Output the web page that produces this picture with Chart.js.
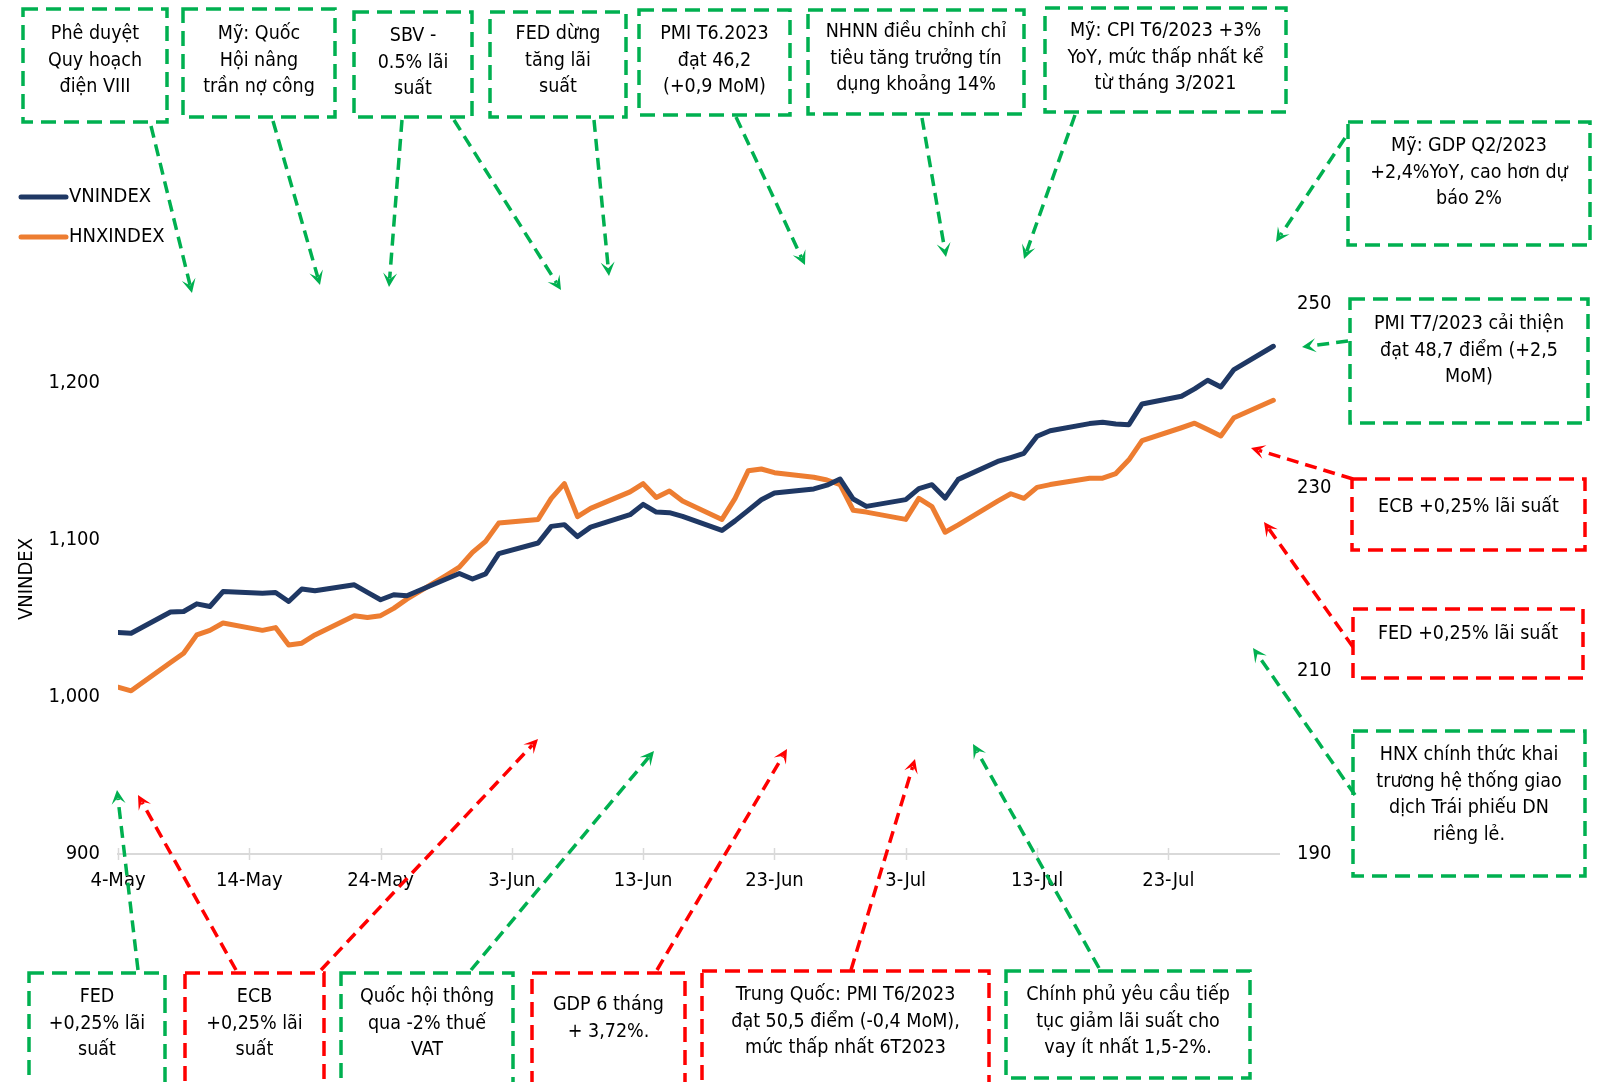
<!DOCTYPE html>
<html lang="vi">
<head>
<meta charset="utf-8">
<title>VNINDEX và HNXINDEX</title>
<script src="https://cdn.jsdelivr.net/npm/chart.js@4.4.1/dist/chart.umd.min.js"></script>
<style>
  html, body { margin: 0; padding: 0; background: #ffffff; }
  #wrap { position: relative; width: 1598px; height: 1082px; overflow: hidden; }
  canvas { display: block; }
</style>
</head>
<body>
<div id="wrap"><canvas id="chart" width="1598" height="1082"></canvas></div>
<script>
// Trading sessions, 4 May – 31 Jul 2023
const tradeDates = [
  '2023-05-04','2023-05-05',
  '2023-05-08','2023-05-09','2023-05-10','2023-05-11','2023-05-12',
  '2023-05-15','2023-05-16','2023-05-17','2023-05-18','2023-05-19',
  '2023-05-22','2023-05-23','2023-05-24','2023-05-25','2023-05-26',
  '2023-05-29','2023-05-30','2023-05-31','2023-06-01','2023-06-02',
  '2023-06-05','2023-06-06','2023-06-07','2023-06-08','2023-06-09',
  '2023-06-12','2023-06-13','2023-06-14','2023-06-15','2023-06-16',
  '2023-06-19','2023-06-20','2023-06-21','2023-06-22','2023-06-23',
  '2023-06-26','2023-06-27','2023-06-28','2023-06-29','2023-06-30',
  '2023-07-03','2023-07-04','2023-07-05','2023-07-06','2023-07-07',
  '2023-07-10','2023-07-11','2023-07-12','2023-07-13','2023-07-14',
  '2023-07-17','2023-07-18','2023-07-19','2023-07-20','2023-07-21',
  '2023-07-24','2023-07-25','2023-07-26','2023-07-27','2023-07-28',
  '2023-07-31'
];

const vnindex = [
  1041.0, 1040.5,
  1054.0, 1054.3, 1059.2, 1057.5, 1067.0,
  1066.0, 1066.4, 1060.7, 1068.6, 1067.5,
  1071.3, 1066.5, 1061.8, 1065.0, 1064.3,
  1075.0, 1078.5, 1075.0, 1078.3, 1091.1,
  1097.9, 1108.5, 1109.6, 1102.0, 1108.0,
  1115.9, 1122.5, 1117.6, 1117.2, 1114.8,
  1105.9, 1112.0, 1118.7, 1125.4, 1129.7,
  1132.3, 1134.7, 1138.6, 1125.9, 1121.2,
  1125.5, 1132.5, 1135.0, 1126.5, 1138.4,
  1149.8, 1152.3, 1155.0, 1165.8, 1169.3,
  1173.9, 1174.7, 1173.7, 1173.2, 1186.4,
  1191.3, 1196.0, 1201.5, 1197.2, 1208.3,
  1223.1
];

const hnxindex = [
  208.2, 207.8,
  210.9, 211.9, 213.9, 214.4, 215.2,
  214.4, 214.7, 212.8, 213.0, 213.9,
  216.0, 215.8, 216.0, 216.8, 217.8,
  220.4, 221.3, 222.9, 224.1, 226.1,
  226.5, 228.8, 230.4, 226.8, 227.7,
  229.5, 230.4, 228.9, 229.6, 228.5,
  226.5, 228.8, 231.8, 232.0, 231.6,
  231.1, 230.8, 230.3, 227.5, 227.3,
  226.5, 228.8, 227.9, 225.1, 225.9,
  228.5, 229.3, 228.8, 230.0, 230.3,
  231.0, 231.0, 231.5, 233.0, 235.1,
  236.5, 237.0, 236.3, 235.6, 237.6,
  239.5
];

const xTickDates  = ['2023-05-04','2023-05-14','2023-05-24','2023-06-03','2023-06-13','2023-06-23','2023-07-03','2023-07-13','2023-07-23'];
const xTickLabels = ['4-May','14-May','24-May','3-Jun','13-Jun','23-Jun','3-Jul','13-Jul','23-Jul'];
const vnTicks  = [900, 1000, 1100, 1200];
const hnxTicks = [190, 210, 230, 250];

const seriesNames = ['VNINDEX', 'HNXINDEX'];
const axisTitle = 'VNINDEX';

// Event call-outs: text of each note
const notes = [
  ['Phê duyệt', 'Quy hoạch', 'điện VIII'],
  ['Mỹ: Quốc', 'Hội nâng', 'trần nợ công'],
  ['SBV -', '0.5% lãi', 'suất'],
  ['FED dừng', 'tăng lãi', 'suất'],
  ['PMI T6.2023', 'đạt 46,2', '(+0,9 MoM)'],
  ['NHNN điều chỉnh chỉ', 'tiêu tăng trưởng tín', 'dụng khoảng 14%'],
  ['Mỹ: CPI T6/2023 +3%', 'YoY, mức thấp nhất kể', 'từ tháng 3/2021'],
  ['Mỹ: GDP Q2/2023', '+2,4%YoY, cao hơn dự', 'báo 2%'],
  ['PMI T7/2023 cải thiện', 'đạt 48,7 điểm (+2,5', 'MoM)'],
  ['ECB +0,25% lãi suất'],
  ['FED +0,25% lãi suất'],
  ['HNX chính thức khai', 'trương hệ thống giao', 'dịch Trái phiếu DN', 'riêng lẻ.'],
  ['FED', '+0,25% lãi', 'suất'],
  ['ECB', '+0,25% lãi', 'suất'],
  ['Quốc hội thông', 'qua -2% thuế', 'VAT'],
  ['GDP 6 tháng', '+ 3,72%.'],
  ['Trung Quốc: PMI T6/2023', 'đạt 50,5 điểm (-0,4 MoM),', 'mức thấp nhất 6T2023'],
  ['Chính phủ yêu cầu tiếp', 'tục giảm lãi suất cho', 'vay ít nhất 1,5-2%.']
];

// ---- layout of the call-outs (box rect, first text line y, arrows from -> to, tone)
const GREEN = '#00B050', RED = '#FF0000';
const noteLayout = [
  { box: [23, 9, 167, 122],      ty: 34,   arrows: [[151, 126, 192, 293]],   c: GREEN },
  { box: [183, 9, 335, 117],     ty: 34,   arrows: [[273, 121, 320, 285]],   c: GREEN },
  { box: [354, 12, 472, 117],    ty: 36,   arrows: [[402, 120, 389, 287], [454, 120, 561, 290]], c: GREEN },
  { box: [490, 12, 626, 117],    ty: 34,   arrows: [[594, 120, 609, 276]],   c: GREEN },
  { box: [639, 10, 790, 115],    ty: 34,   arrows: [[736, 117, 805, 265]],   c: GREEN },
  { box: [808, 10, 1024, 114],   ty: 32,   arrows: [[922, 118, 946, 257]],   c: GREEN },
  { box: [1045, 8, 1286, 112],   ty: 31,   arrows: [[1075, 115, 1024, 259]], c: GREEN },
  { box: [1348, 122, 1590, 245], ty: 146,  arrows: [[1345, 138, 1276, 242]], c: GREEN },
  { box: [1350, 299, 1588, 423], ty: 324,  arrows: [[1348, 341, 1302, 347]], c: GREEN },
  { box: [1352, 479, 1585, 550], ty: 507,  arrows: [[1353, 479, 1251, 448]], c: RED },
  { box: [1353, 609, 1583, 678], ty: 634,  arrows: [[1353, 647, 1264, 522]], c: RED },
  { box: [1353, 731, 1585, 876], ty: 755,  arrows: [[1355, 795, 1253, 648]], c: GREEN },
  { box: [29, 973, 165, 1095],   ty: 997,  arrows: [[138, 970, 117, 790]],   c: GREEN },
  { box: [185, 973, 324, 1095],  ty: 997,  arrows: [[236, 970, 138, 795], [321, 970, 538, 739]], c: RED },
  { box: [341, 973, 513, 1095],  ty: 997,  arrows: [[471, 970, 654, 751]],   c: GREEN },
  { box: [532, 973, 685, 1095],  ty: 1005, arrows: [[657, 970, 787, 749]],   c: RED },
  { box: [702, 971, 989, 1095],  ty: 995,  arrows: [[851, 970, 915, 759]],   c: RED },
  { box: [1006, 971, 1250, 1078], ty: 995, arrows: [[1099, 968, 973, 744]],  c: GREEN }
];

const FONT = "'DejaVu Sans Condensed', 'DejaVu Sans', sans-serif";
const NOTE_FONT = '19.5px ' + FONT;
const LINE_H = 26.5;

// day offsets from the first session (calendar days, so weekends leave gaps)
const day0 = Date.UTC(2023, 4, 4);
function dayIndex(s) {
  const [y, m, d] = s.split('-').map(Number);
  return (Date.UTC(y, m - 1, d) - day0) / 86400000;
}
const vnPoints  = tradeDates.map((d, i) => ({ x: dayIndex(d), y: vnindex[i] }));
const hnxPoints = tradeDates.map((d, i) => ({ x: dayIndex(d), y: hnxindex[i] }));
const xTickValues = xTickDates.map(dayIndex);

function drawArrow(ctx, a, color) {
  const [x1, y1, x2, y2] = a;
  const dx = x2 - x1, dy = y2 - y1, len = Math.hypot(dx, dy);
  const ux = dx / len, uy = dy / len, px = -uy, py = ux;
  const L = 14, W = 7;
  ctx.save();
  ctx.strokeStyle = color;
  ctx.lineWidth = 3.5;
  ctx.setLineDash([12, 7]);
  ctx.beginPath();
  ctx.moveTo(x1, y1);
  ctx.lineTo(x2 - ux * L * 0.6, y2 - uy * L * 0.6);
  ctx.stroke();
  ctx.setLineDash([]);
  ctx.fillStyle = color;
  ctx.beginPath();
  ctx.moveTo(x2, y2);
  ctx.lineTo(x2 - ux * L + px * W, y2 - uy * L + py * W);
  ctx.lineTo(x2 - ux * L * 0.55, y2 - uy * L * 0.55);
  ctx.lineTo(x2 - ux * L - px * W, y2 - uy * L - py * W);
  ctx.closePath();
  ctx.fill();
  ctx.restore();
}

const calloutPlugin = {
  id: 'callouts',
  afterDraw(chart) {
    const ctx = chart.ctx;
    noteLayout.forEach((n, i) => {
      const [x0, y0, x1, y1] = n.box;
      ctx.save();
      ctx.strokeStyle = n.c;
      ctx.lineWidth = 3.5;
      ctx.setLineDash([15, 8]);
      ctx.strokeRect(x0, y0, x1 - x0, y1 - y0);
      ctx.restore();
      ctx.save();
      ctx.fillStyle = '#000000';
      ctx.font = NOTE_FONT;
      ctx.textAlign = 'center';
      ctx.textBaseline = 'middle';
      const cx = (x0 + x1) / 2;
      notes[i].forEach((t, k) => ctx.fillText(t, cx, n.ty + k * LINE_H));
      ctx.restore();
      n.arrows.forEach(a => drawArrow(ctx, a, n.c));
    });
  }
};

const legendPlugin = {
  id: 'sideLegend',
  afterDraw(chart) {
    const ctx = chart.ctx;
    chart.data.datasets.forEach((ds, i) => {
      const y = 197 + i * 40;
      ctx.save();
      ctx.strokeStyle = ds.borderColor;
      ctx.lineWidth = 5;
      ctx.lineCap = 'round';
      ctx.beginPath();
      ctx.moveTo(21, y);
      ctx.lineTo(66, y);
      ctx.stroke();
      ctx.fillStyle = '#000000';
      ctx.font = '20px ' + FONT;
      ctx.textAlign = 'left';
      ctx.textBaseline = 'middle';
      ctx.fillText(ds.label, 69, y);
      ctx.restore();
    });
  }
};

// tick marks crossing the date axis
const crossTickPlugin = {
  id: 'crossTicks',
  afterDraw(chart) {
    const xs = chart.scales.x, ctx = chart.ctx, yb = chart.chartArea.bottom;
    ctx.save();
    ctx.strokeStyle = '#D9D9D9';
    ctx.lineWidth = 1.5;
    xs.ticks.forEach(t => {
      const px = Math.round(xs.getPixelForValue(t.value)) + 0.5;
      ctx.beginPath();
      ctx.moveTo(px, yb - 6);
      ctx.lineTo(px, yb + 6);
      ctx.stroke();
    });
    ctx.restore();
  }
};

new Chart(document.getElementById('chart'), {
  type: 'line',
  data: {
    datasets: [
      {
        label: seriesNames[0], data: vnPoints, yAxisID: 'y',
        borderColor: '#1F3864', borderWidth: 5, pointRadius: 0,
        borderJoinStyle: 'round', borderCapStyle: 'round', tension: 0
      },
      {
        label: seriesNames[1], data: hnxPoints, yAxisID: 'y1',
        borderColor: '#ED7D31', borderWidth: 5, pointRadius: 0,
        borderJoinStyle: 'round', borderCapStyle: 'round', tension: 0
      }
    ]
  },
  options: {
    responsive: false,
    animation: false,
    devicePixelRatio: 1,
    layout: { padding: { top: 304, left: 0, right: 0, bottom: 0 } },
    plugins: { legend: { display: false }, tooltip: { enabled: false } },
    scales: {
      x: {
        type: 'linear',
        min: 0,
        max: dayIndex('2023-07-31') + 0.43,
        afterBuildTicks: s => { s.ticks = xTickValues.map(v => ({ value: v })); },
        afterFit: s => { s.height = 228; },
        grid: { display: false, drawTicks: false },
        border: { display: true, color: '#D9D9D9', width: 2 },
        ticks: {
          padding: 15, maxRotation: 0, autoSkip: false,
          color: '#000000', font: { family: FONT, size: 20 },
          callback: v => xTickLabels[xTickValues.indexOf(v)]
        }
      },
      y: {
        position: 'left',
        min: 900, max: 1250,
        afterBuildTicks: s => { s.ticks = vnTicks.map(v => ({ value: v })); },
        afterFit: s => { s.width = 118; },
        grid: { display: false, drawTicks: false },
        border: { display: false },
        title: {
          display: true, text: axisTitle, color: '#000000',
          font: { family: FONT, size: 20 }, padding: { top: 15, bottom: 0 }
        },
        ticks: {
          padding: 18, color: '#000000', font: { family: FONT, size: 20 },
          callback: v => v.toLocaleString('en-US')
        }
      },
      y1: {
        position: 'right',
        min: 190, max: 250,
        afterBuildTicks: s => { s.ticks = hnxTicks.map(v => ({ value: v })); },
        afterFit: s => { s.width = 319; },
        grid: { display: false, drawTicks: false },
        border: { display: false },
        ticks: {
          padding: 18, color: '#000000', font: { family: FONT, size: 20 },
          callback: v => String(v)
        }
      }
    }
  },
  plugins: [crossTickPlugin, legendPlugin, calloutPlugin]
});
</script>
</body>
</html>
